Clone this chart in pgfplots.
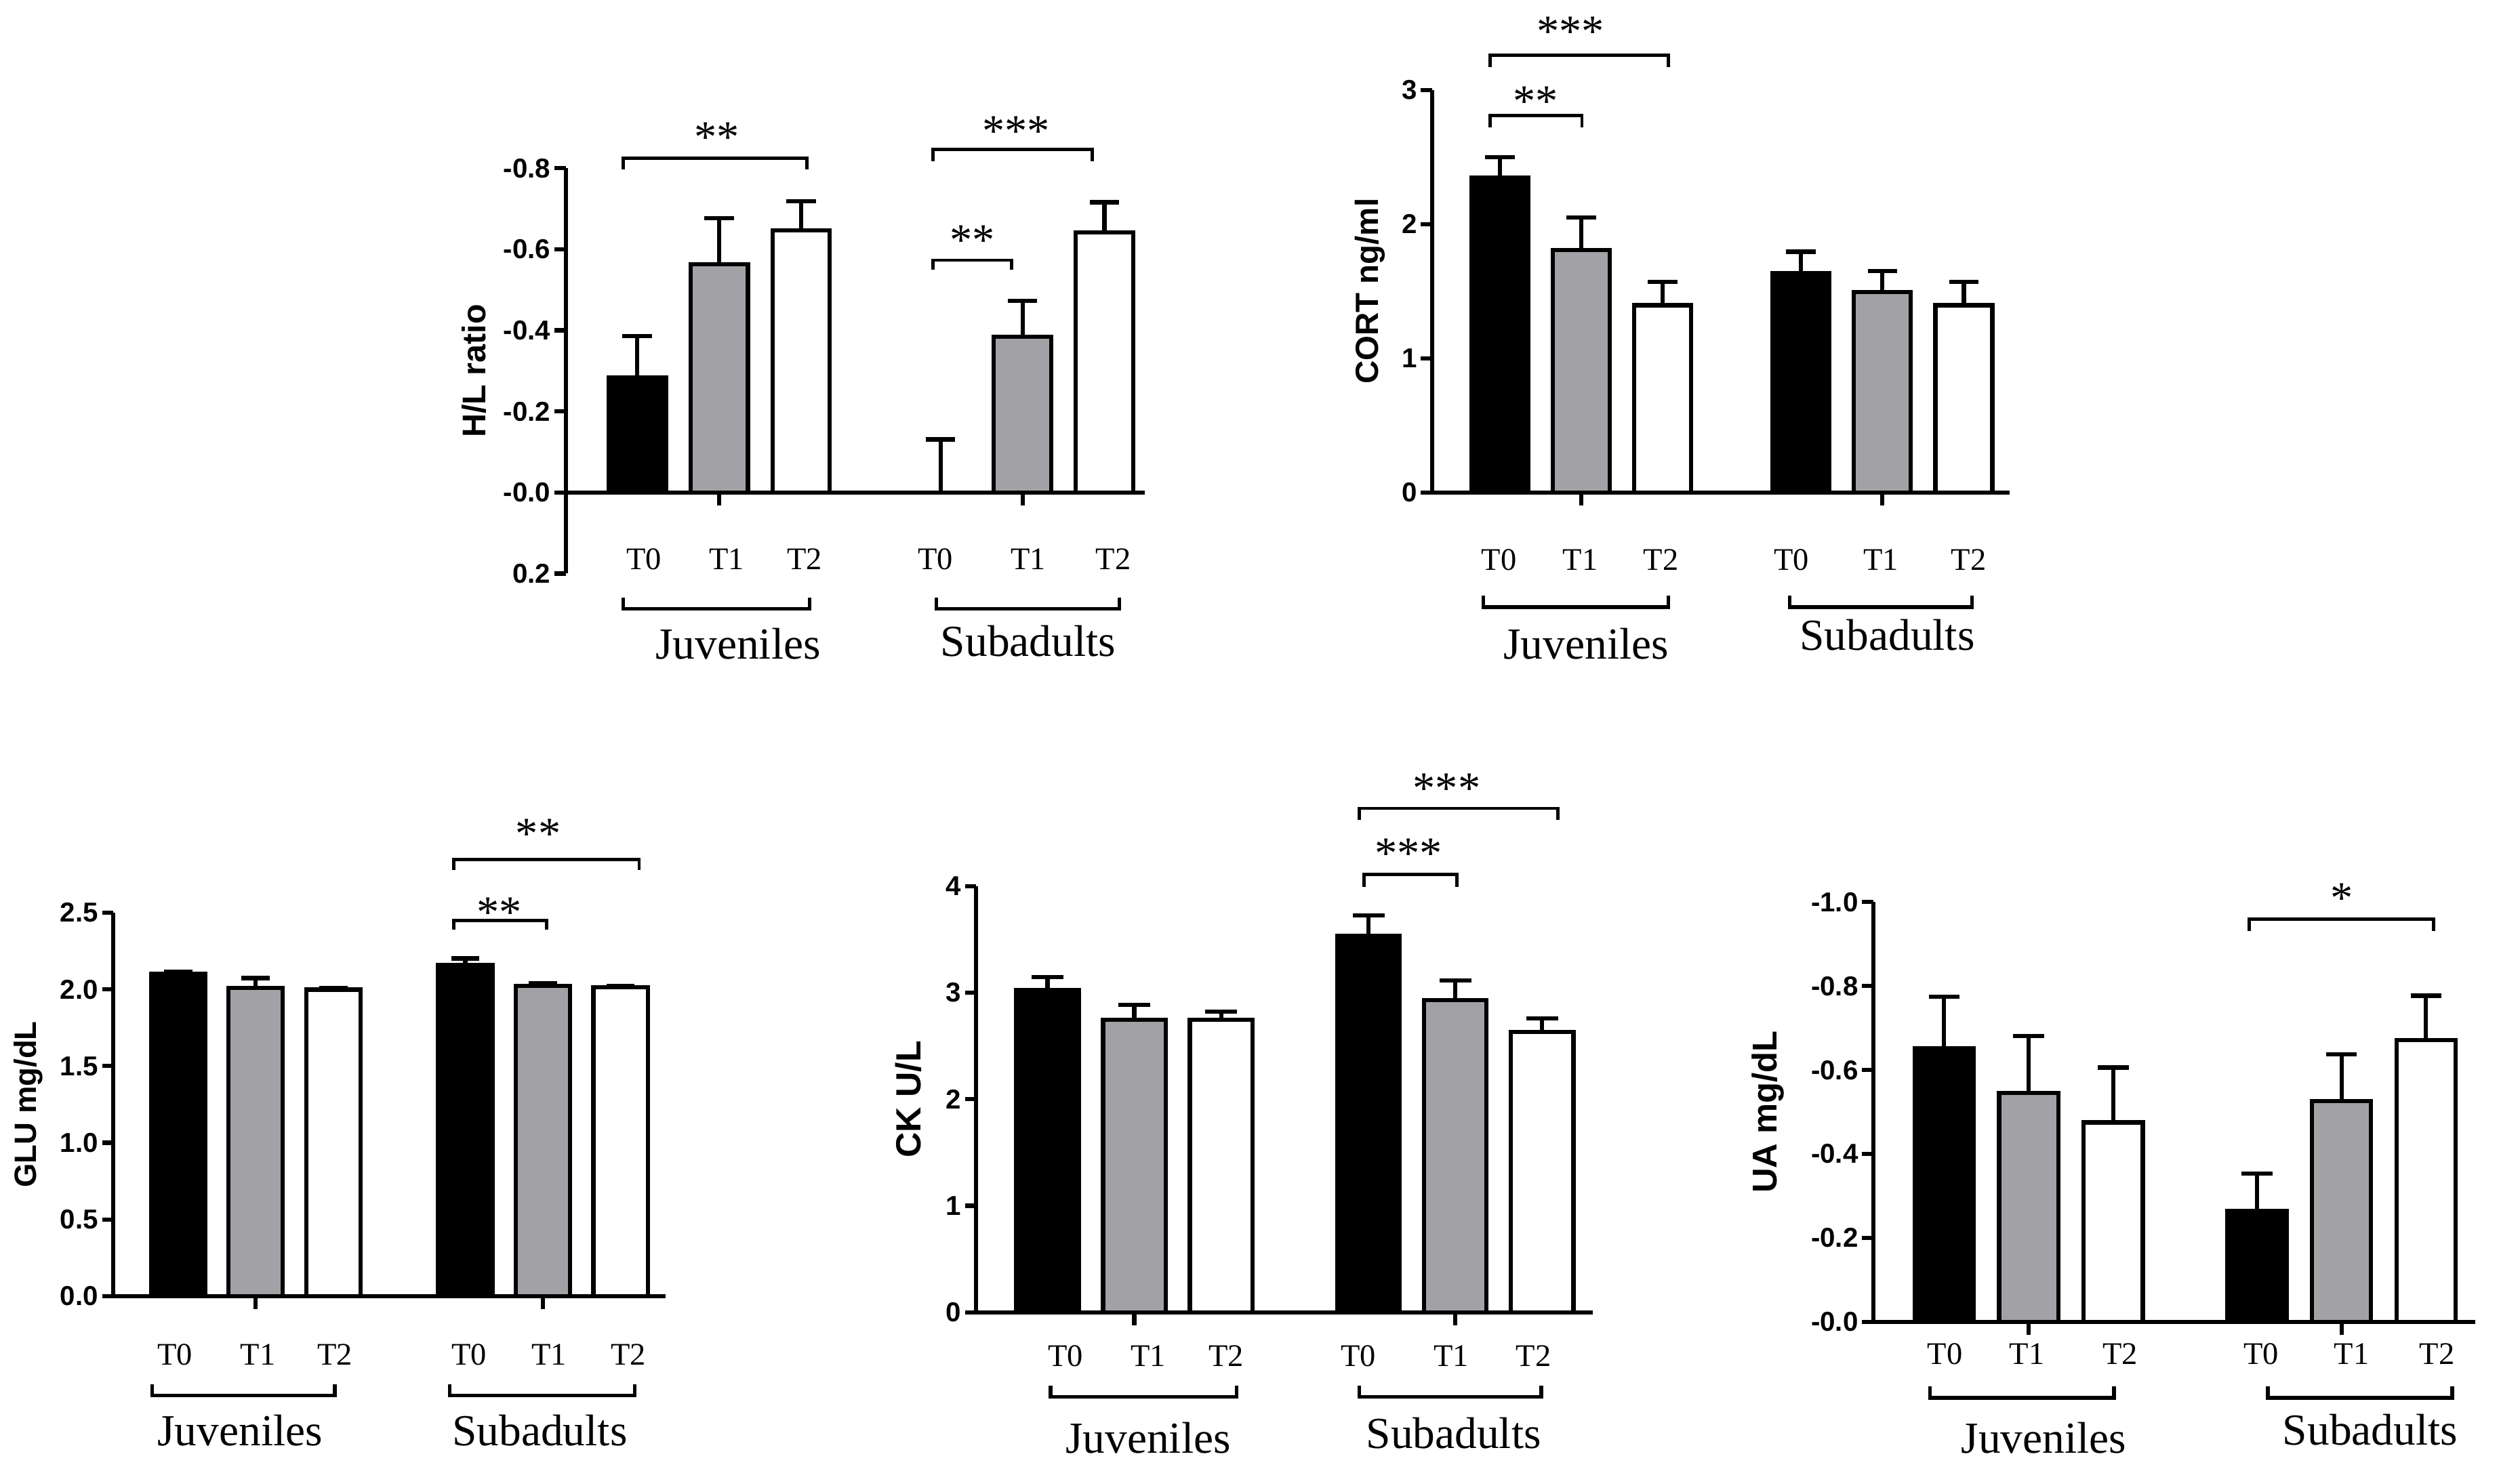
\documentclass[border=0pt]{standalone}
\usepackage{pgfplots}
\pgfplotsset{compat=1.18}
\usepackage{fontspec}
\setmainfont{Liberation Serif}
\setsansfont{Liberation Sans}

\definecolor{bargray}{RGB}{162,162,166}

\newcommand{\tfont}{\fontsize{9.8}{10}\selectfont}
\newcommand{\gfont}{\fontsize{13.8}{14}\selectfont}
\newcommand{\sfont}{\fontsize{14}{14}\selectfont}

% significance bracket: x1, x2, y of bar, y of leg ends, star x, star y, stars
\newcommand{\sig}[7]{%
  \draw[line width=1pt] (axis cs:#1,#4) -- (axis cs:#1,#3) -- (axis cs:#2,#3) -- (axis cs:#2,#4);
  \node[font=\sfont, anchor=base, yshift=-6.5pt] at (axis cs:#5,#6) {#7};}
% group bracket below the axis: x1, x2, offset below y=0 (pt)
\newcommand{\grp}[3]{%
  \draw[line width=1.1pt] ([yshift=-#3pt]axis cs:#1,0) ++(0pt,3.5pt) -- ++(0pt,-3.5pt)
    -- ([yshift=-#3pt]axis cs:#2,0) -- ++(0pt,3.5pt);}
% time-point label below the axis: x, offset (pt), text
\newcommand{\tl}[3]{\node[font=\tfont, yshift=-#2pt] at (axis cs:#1,0) {#3};}
% group name: x, offset (pt), text
\newcommand{\gl}[3]{\node[font=\gfont, yshift=-#2pt] at (axis cs:#1,0) {#3};}
% short downward tick on the category axis
\newcommand{\xt}[1]{\draw[line width=1.3pt] (axis cs:#1,0) -- ++(0pt,-4pt);}
% rotated y label: shift (pt), font size, text
\newcommand{\yl}[3]{\node[rotate=90, font=\sffamily\bfseries\fontsize{#2}{#2}\selectfont]
  at ([xshift=#1pt]rel axis cs:0,0.5) {#3};}

\pgfplotsset{
  prism/.style={
    scale only axis, anchor=west, clip=false, enlargelimits=false,
    axis y line*=left, axis x line*=middle,
    axis line style={-, line width=1.3pt, black},
    xtick=\empty,
    tick align=outside, major tick length=3.5pt,
    tick style={line width=1.3pt, black},
    yticklabel style={font=\sffamily\bfseries\fontsize{8.5}{9}\selectfont, inner sep=1pt},
  },
  barT0/.style={ybar, bar shift=0pt, draw=black, fill=black, line width=1.3pt},
  barT1/.style={ybar, bar shift=0pt, draw=black, fill=bargray, line width=1.3pt},
  barT2/.style={ybar, bar shift=0pt, draw=black, fill=white, line width=1.3pt},
  errup/.style={error bars/y dir=plus, error bars/y explicit,
    error bars/error bar style={line width=1.3pt, black},
    error bars/error mark options={rotate=90, line width=1.3pt, black, mark size=#1}},
  errdn/.style={error bars/y dir=minus, error bars/y explicit,
    error bars/error bar style={line width=1.3pt, black},
    error bars/error mark options={rotate=90, line width=1.3pt, black, mark size=#1}},
}

\begin{document}
\begin{tikzpicture}
\path[use as bounding box] (0pt,0pt) rectangle (784pt,457pt);

% ---------------- H/L ratio ----------------
\begin{axis}[prism, at={(176pt,341.57pt)}, width=180.1pt, height=126.15pt,
  xmin=-0.873, xmax=6.19, ymin=-0.8, ymax=0.2, y dir=reverse,
  ytick={-0.8,-0.6,-0.4,-0.2,0,0.2}, yticklabels={-0.8,-0.6,-0.4,-0.2,-0.0,0.2}]
\addplot[barT0, bar width=0.7, errdn=4.6pt] coordinates {(0,-0.284) +- (0,0.102) (3.7,0) +- (0,0.131)};
\addplot[barT1, bar width=0.7, errdn=4.6pt] coordinates {(1,-0.563) +- (0,0.114) (4.7,-0.384) +- (0,0.089)};
\addplot[barT2, bar width=0.7, errdn=4.6pt] coordinates {(2,-0.647) +- (0,0.072) (5.7,-0.642) +- (0,0.074)};
\xt{1}\xt{4.7}
\yl{-28.5}{10.2}{H/L ratio}
\tl{0.08}{20.65}{T0}\tl{1.09}{20.65}{T1}\tl{2.04}{20.65}{T2}
\tl{3.64}{20.65}{T0}\tl{4.77}{20.65}{T1}\tl{5.81}{20.65}{T2}
\grp{-0.17}{2.10}{36.15}\grp{3.65}{5.88}{36.15}
\gl{1.23}{47.15}{Juveniles}\gl{4.77}{46.15}{Subadults}
\sig{-0.17}{2.07}{-0.825}{-0.797}{0.97}{-0.891}{**}
\sig{3.61}{5.55}{-0.846}{-0.817}{4.62}{-0.907}{***}
\sig{3.61}{4.57}{-0.573}{-0.550}{4.09}{-0.637}{**}
\end{axis}

% ---------------- CORT ----------------
\begin{axis}[prism, at={(445.5pt,366.37pt)}, width=179.65pt, height=125.25pt,
  xmin=-0.833, xmax=6.26, ymin=0, ymax=3,
  ytick={0,1,2,3}, yticklabels={0,1,2,3}]
\addplot[barT0, bar width=0.7, errup=4.6pt] coordinates {(0,2.347) +- (0,0.153) (3.7,1.637) +- (0,0.157)};
\addplot[barT1, bar width=0.7, errup=4.6pt] coordinates {(1,1.807) +- (0,0.241) (4.7,1.495) +- (0,0.155)};
\addplot[barT2, bar width=0.7, errup=4.6pt] coordinates {(2,1.395) +- (0,0.174) (5.7,1.395) +- (0,0.175)};
\xt{1}\xt{4.7}
\yl{-19.25}{10}{CORT ng/ml}
\tl{-0.01}{20.95}{T0}\tl{0.99}{20.95}{T1}\tl{1.98}{20.95}{T2}
\tl{3.58}{20.95}{T0}\tl{4.68}{20.95}{T1}\tl{5.76}{20.95}{T2}
\grp{-0.2}{2.07}{35.7}\grp{3.56}{5.80}{35.7}
\gl{1.06}{47.15}{Juveniles}\gl{4.76}{44.45}{Subadults}
\sig{-0.12}{2.07}{3.26}{3.17}{0.87}{3.48}{***}
\sig{-0.12}{1.01}{2.81}{2.72}{0.44}{2.96}{**}
\end{axis}

% ---------------- GLU ----------------
\begin{axis}[prism, at={(35.25pt,113.3pt)}, width=171.8pt, height=119.3pt,
  xmin=-0.834, xmax=6.28, ymin=0, ymax=2.5,
  ytick={0,0.5,1,1.5,2,2.5}, yticklabels={0.0,0.5,1.0,1.5,2.0,2.5}]
\addplot[barT0, bar width=0.7, errup=4.4pt] coordinates {(0,2.102) +- (0,0.014) (3.7,2.16) +- (0,0.042)};
\addplot[barT1, bar width=0.7, errup=4.4pt] coordinates {(1,2.01) +- (0,0.064) (4.7,2.024) +- (0,0.016)};
\addplot[barT2, bar width=0.7, errup=4.4pt] coordinates {(2,1.999) +- (0,0.011) (5.7,2.013) +- (0,0.011)};
\xt{1}\xt{4.7}
\yl{-26.5}{9.6}{GLU mg/dL}
\tl{-0.04}{18.25}{T0}\tl{1.03}{18.25}{T1}\tl{2.02}{18.25}{T2}
\tl{3.75}{18.25}{T0}\tl{4.78}{18.25}{T1}\tl{5.80}{18.25}{T2}
\grp{-0.33}{2.02}{30.85}\grp{3.50}{5.88}{30.85}
\gl{0.80}{41.9}{Juveniles}\gl{4.66}{41.9}{Subadults}
\sig{3.55}{5.94}{2.848}{2.78}{4.64}{3.056}{**}
\sig{3.55}{4.75}{2.45}{2.39}{4.14}{2.54}{**}
\end{axis}

% ---------------- CK ----------------
\begin{axis}[prism, at={(303.7pt,114.92pt)}, width=191.75pt, height=132.65pt,
  xmin=-0.822, xmax=6.28, ymin=0, ymax=4,
  ytick={0,1,2,3,4}, yticklabels={0,1,2,3,4}]
\addplot[barT0, bar width=0.72, errup=5pt] coordinates {(0,3.026) +- (0,0.12) (3.7,3.532) +- (0,0.193)};
\addplot[barT1, bar width=0.72, errup=5pt] coordinates {(1,2.747) +- (0,0.137) (4.7,2.931) +- (0,0.181)};
\addplot[barT2, bar width=0.72, errup=5pt] coordinates {(2,2.747) +- (0,0.077) (5.7,2.631) +- (0,0.129)};
\xt{1}\xt{4.7}
\yl{-21.1}{10.9}{CK U/L}
\tl{0.21}{13.5}{T0}\tl{1.16}{13.5}{T1}\tl{2.06}{13.5}{T2}
\tl{3.58}{13.5}{T0}\tl{4.65}{13.5}{T1}\tl{5.60}{13.5}{T2}
\grp{0.035}{2.18}{26.3}\grp{3.59}{5.69}{26.3}
\gl{1.16}{39.1}{Juveniles}\gl{4.68}{37.7}{Subadults}
\sig{3.59}{5.88}{4.73}{4.62}{4.60}{4.97}{***}
\sig{3.65}{4.72}{4.11}{3.99}{4.16}{4.36}{***}
\end{axis}

% ---------------- UA ----------------
\begin{axis}[prism, at={(582.8pt,110.95pt)}, width=187.2pt, height=130.6pt,
  xmin=-0.838, xmax=6.28, ymin=-1, ymax=0, y dir=reverse,
  ytick={-1,-0.8,-0.6,-0.4,-0.2,0}, yticklabels={-1.0,-0.8,-0.6,-0.4,-0.2,-0.0}]
\addplot[barT0, bar width=0.7, errdn=4.8pt] coordinates {(0,-0.652) +- (0,0.123) (3.7,-0.265) +- (0,0.088)};
\addplot[barT1, bar width=0.7, errdn=4.8pt] coordinates {(1,-0.545) +- (0,0.136) (4.7,-0.526) +- (0,0.112)};
\addplot[barT2, bar width=0.7, errdn=4.8pt] coordinates {(2,-0.475) +- (0,0.131) (5.7,-0.671) +- (0,0.106)};
\xt{1}\xt{4.7}
\yl{-32.8}{10.7}{UA mg/dL}
\tl{0.01}{10.05}{T0}\tl{0.98}{10.05}{T1}\tl{2.08}{10.05}{T2}
\tl{3.75}{10.05}{T0}\tl{4.82}{10.05}{T1}\tl{5.83}{10.05}{T2}
\grp{-0.17}{2.01}{23.65}\grp{3.83}{6.01}{23.65}
\gl{1.18}{36.15}{Juveniles}\gl{5.04}{33.65}{Subadults}
\sig{3.61}{5.79}{-0.959}{-0.931}{4.70}{-1.023}{*}
\end{axis}
\end{tikzpicture}
\end{document}
